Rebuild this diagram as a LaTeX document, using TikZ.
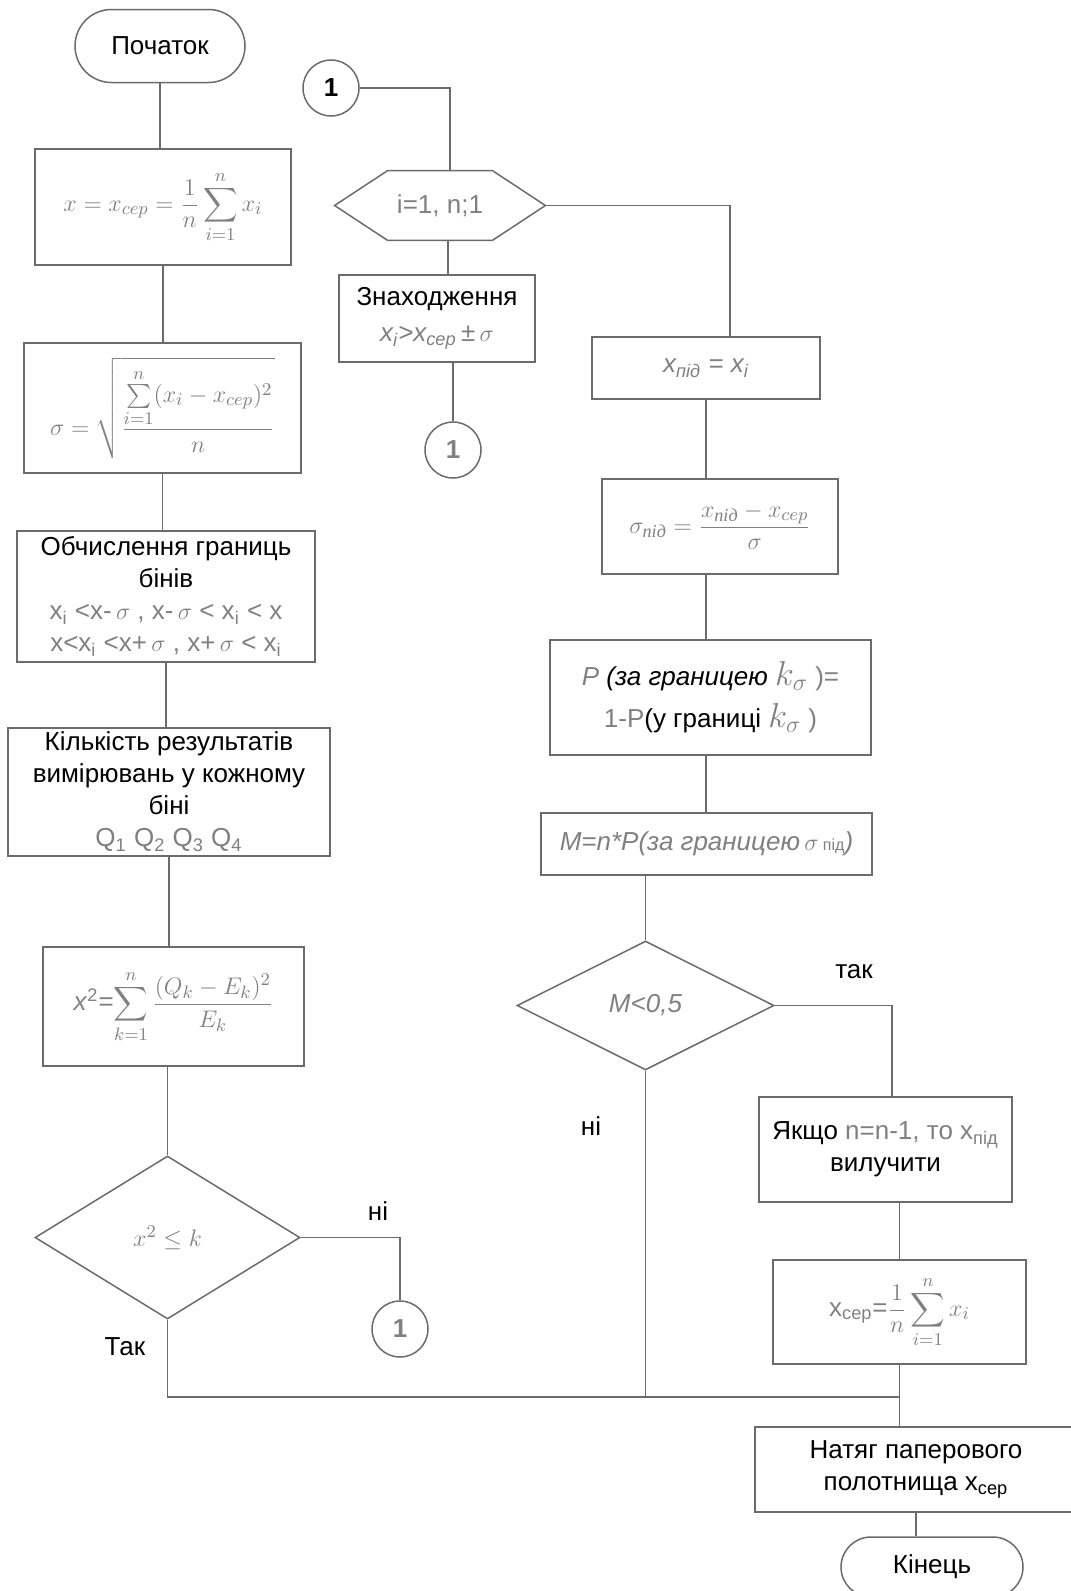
\documentclass[tikz,border=0pt]{standalone}
\usepackage{amsmath}
\usepackage{fontspec}
\setmainfont{Liberation Sans}
\newfontfamily\serifcyr{Liberation Serif}
\usetikzlibrary{shapes.geometric,shapes.misc,calc}
\definecolor{lc}{gray}{0.42}
\definecolor{fg}{gray}{0.5}
\newcommand{\pid}{\text{\serifcyr\itshape під}}
\begin{document}
\begin{tikzpicture}[x=0.5pt,y=-0.5pt,
  every node/.style={font=\fontsize{13}{16}\selectfont},
  box/.style={draw=lc, line width=0.75pt, rectangle, align=center, inner sep=2pt},
  term/.style={draw=lc, line width=0.75pt, rounded rectangle, align=center, inner sep=2pt},
  dec/.style={draw=lc, line width=0.75pt, diamond, inner sep=0pt, align=center},
  conn/.style={draw=lc, line width=0.75pt, circle, inner sep=0pt, minimum size=28pt, font=\bfseries\fontsize{13}{15}\selectfont},
  ln/.style={draw=lc, line width=0.75pt},
  lbl/.style={inner sep=0pt, font=\fontsize{13}{15}\selectfont}
]
\useasboundingbox (0,0) rectangle (1071,1591);
\clip (0,0) rectangle (1071,1591);

% ---------- left column ----------
\node[term, minimum width=89pt, minimum height=36.5pt] (start) at (160,46) {Початок};
\node[box, minimum width=128pt, minimum height=58pt] (b1) at (163,207)
  {\color{fg}$\displaystyle x = x_{cep} = \frac{1}{n}\sum_{i=1}^{n} x_i$};
\node[box, minimum width=138.5pt, minimum height=65pt] (b2) at (162.5,408)
  {\color{fg}$\displaystyle \sigma = \sqrt{\frac{\sum\limits_{i=1}^{n}(x_i - x_{cep})^2}{n}}$};
\node[box, minimum width=149pt, minimum height=65.5pt] (b3) at (166,596.5)
  {Обчислення границь\\ бінів\\
   {\color{fg}x\textsubscript{i} <x-\,$\sigma$ , x-\,$\sigma$ < x\textsubscript{i} < x}\\
   {\color{fg}x<x\textsubscript{i} <x+\,$\sigma$ , x+\,$\sigma$ < x\textsubscript{i}}};
\node[box, minimum width=161pt, minimum height=63pt] (b4) at (169,792)
  {Кількість результатів\\ вимірювань у кожному\\ біні\\
   {\color{fg}Q\textsubscript{1} Q\textsubscript{2} Q\textsubscript{3} Q\textsubscript{4}}};
\node[box, minimum width=130.5pt, minimum height=59.5pt] (b5) at (173.5,1006.5)
  {\color{fg}\textit{x}\textsuperscript{2}=$\displaystyle\sum_{k=1}^{n}\frac{(Q_k - E_k)^2}{E_k}$};
\node[dec, minimum width=132.5pt, minimum height=81.5pt] (d1) at (167.5,1237.5)
  {\color{fg}$x^2 \le k$};
\node[conn, text=fg] (c3) at (400,1329) {1};
\node[lbl] (lni1) at (378,1211) {ні};
\node[lbl] (ltak1) at (125,1347) {Так};

\coordinate (jy) at (0,1397);
\draw[ln] (start.south) -- (start.south |- b1.north);
\draw[ln] (b1.south) -- (b1.south |- b2.north);
\draw[ln] (b2.south) -- (b2.south |- b3.north);
\draw[ln] (b3.south) -- (b3.south |- b4.north);
\draw[ln] (b4.south) -- (b4.south |- b5.north);
\draw[ln] (b5.south -| d1.north) -- (d1.north);
\draw[ln] (d1.east) -| (c3.north);

% ---------- middle column ----------
\node[conn] (c1) at (331,88) {1};
\node[minimum width=105pt, minimum height=34.5pt, inner sep=0pt] (hex) at (440,205.5)
  {\color{fg}i=1, n;1};
\draw[ln] (hex.west) -- ([xshift=26.5pt]hex.north west) -- ([xshift=-26.5pt]hex.north east)
  -- (hex.east) -- ([xshift=-26.5pt]hex.south east) -- ([xshift=26.5pt]hex.south west) -- cycle;
\node[box, minimum width=98pt, minimum height=43.5pt] (bZ) at (437,318.5)
  {Знаходження\\[2pt] {\color{fg}\textit{x\textsubscript{i}>x\textsubscript{cep}}\,±\,$\sigma$}};
\node[conn, text=fg] (c2) at (453,450) {1};
\draw[ln] (c1.east) -| ([xshift=5pt]hex.north);
\draw[ln] ([xshift=4pt]hex.south) -- ([xshift=4pt]hex.south |- bZ.north);
\draw[ln] ([xshift=8pt]bZ.south) -- ([xshift=8pt]bZ.south |- c2.north);

% ---------- right column ----------
\coordinate (rb) at (730,0);
\node[box, minimum width=114pt, minimum height=31pt] (bX) at (706,368)
  {\color{fg}\textit{x\textsubscript{під} = x\textsubscript{i}}};
\node[box, minimum width=118pt, minimum height=47.5pt] (bS) at (720,526.5)
  {\color{fg}$\displaystyle \sigma_{\pid} = \frac{x_{\pid} - x_{cep}}{\sigma}$};
\node[box, minimum width=160.5pt, minimum height=57.5pt] (bP) at (710.5,697.5)
  {{\color{fg}\textit{P}} \textit{(за границею} {\color{fg}{\fontsize{17}{17}\selectfont$k_\sigma$} )=}\\[5pt]
   {\color{fg}1-P}(у границі {\color{fg}{\fontsize{17}{17}\selectfont$k_\sigma$} )}};
\node[box, minimum width=165.5pt, minimum height=31pt] (bM) at (706.5,844)
  {\color{fg}\textit{M=n*P(за границею}\,$\sigma$\,{\fontsize{8}{9}\selectfont під}\textit{)}};
\node[dec, minimum width=128.5pt, minimum height=64.5pt] (d2) at (645.5,1005.5)
  {\color{fg}\textit{M<0,5}};
\node[lbl] (ltak2) at (854,972) {так};
\node[lbl] (lni2) at (591,1126) {ні};
\node[box, minimum width=126.5pt, minimum height=52.5pt] (bJ) at (885.5,1149.5)
  {Якщо {\color{fg}n=n-1, то x\textsubscript{під}}\\ вилучити};
\node[box, minimum width=126.5pt, minimum height=52pt] (bC) at (899.5,1312)
  {\color{fg}x\textsubscript{сер}=$\displaystyle\frac{1}{n}\sum_{i=1}^{n}x_i$};
\node[box, minimum width=161pt, minimum height=42.5pt] (bF) at (916,1469.5)
  {Натяг паперового\\ полотнища x\textsubscript{сер}};
\node[term, minimum width=95pt, minimum height=30pt] (end) at (932,1567) {Кінець};

\draw[ln] (hex.east) -| (rb |- bX.north);
\draw[ln] (bX.south) -- (bX.south |- bS.north);
\draw[ln] (bS.south -| bX.south) -- (bX.south |- bP.north);
\draw[ln] (bP.south -| bX.south) -- (bX.south |- bM.north);
\draw[ln] (bM.south -| d2.north) -- (d2.north);
\coordinate (rj) at (892,0);
\draw[ln] (d2.east) -| (rj |- bJ.north);
\draw[ln] (d2.south) -- (d2.south |- jy);
\draw[ln] (bC.north |- bJ.south) -- (bC.north);
\draw[ln] (bC.south) -- (bC.south |- bF.north);
\draw[ln] (d1.south) -- (d1.south |- jy) -- (bC.south |- jy);
\draw[ln] (bF.south) -- (bF.south |- end.north);
\end{tikzpicture}
\end{document}
